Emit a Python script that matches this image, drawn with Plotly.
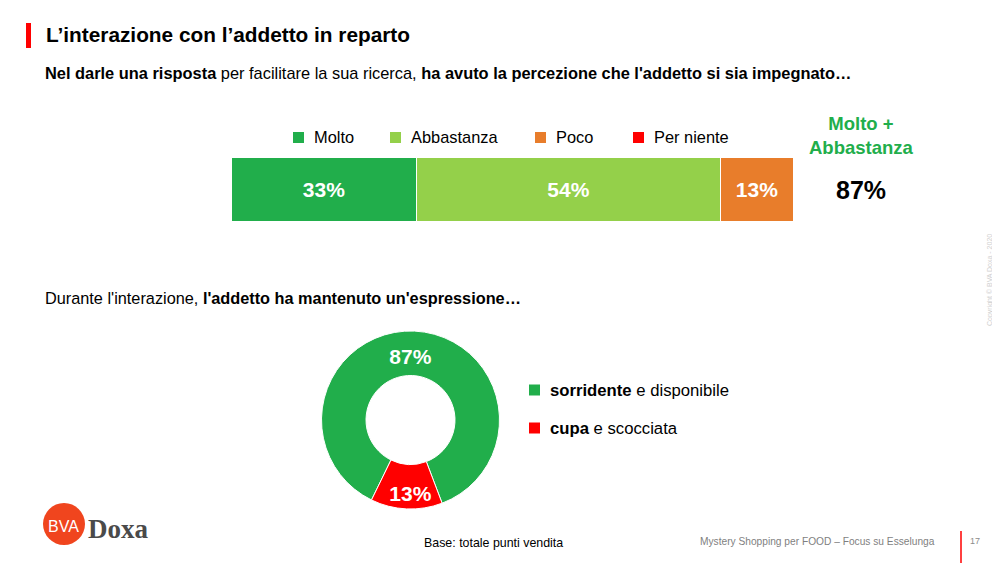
import plotly.graph_objects as go

# data
bar_labels = ["Molto", "Abbastanza", "Poco", "Per niente"]
bar_values = [33, 54, 13, 0]
bar_colors = ["#21AE4B", "#94D04A", "#E87D2B", "#FF0000"]
top2_value = 87

donut_labels = ["<b>sorridente</b> e disponibile", "<b>cupa</b> e scocciata"]
donut_values = [87, 13]
donut_colors = ["#21AE4B", "#FF0000"]

FONT = "Liberation Sans, Arial, sans-serif"
NARROW = "Liberation Sans Narrow, Liberation Sans, Arial, sans-serif"
# page body keeps an 8px margin, so the figure is shrunk and coordinates shifted
OFF = 8
W, H = 1000 - OFF, 563 - OFF


def px(x):
    return (x - OFF) / W


def py(y):
    return 1 - (y - OFF) / H


fig = go.Figure()

# stacked bar
for name, val, col in zip(bar_labels, bar_values, bar_colors):
    fig.add_trace(go.Bar(
        x=[val], y=[0], orientation="h", name=name,
        marker=dict(color=col, line=dict(color="white", width=1)),
        text=[f"{val}%" if val else ""], textposition="inside",
        insidetextanchor="middle",
        textfont=dict(family=NARROW, size=21, color="white"),
        texttemplate="<b>%{text}</b>", showlegend=False, width=1,
    ))

# donut
fig.add_trace(go.Pie(
    values=donut_values, labels=donut_labels, hole=0.5, sort=False,
    direction="clockwise", rotation=206,
    marker=dict(colors=donut_colors, line=dict(color="white", width=1)),
    texttemplate="<b>%{value}%</b>", textposition="inside",
    insidetextorientation="horizontal",
    textfont=dict(family=FONT, size=21, color="white"),
    domain=dict(x=[px(321), px(500)], y=[py(509), py(331)]),
    showlegend=False,
))

fig.update_layout(
    width=W, height=H, margin=dict(l=0, r=0, t=0, b=0),
    paper_bgcolor="white", plot_bgcolor="white",
    barmode="stack", bargap=0,
    xaxis=dict(domain=[px(232), px(794)], range=[0, 100], visible=False,
               fixedrange=True),
    yaxis=dict(domain=[py(222), py(158)], range=[-0.5, 0.5], visible=False,
               fixedrange=True),
    font=dict(family=FONT, color="black"),
)

shapes = []
ann = []

# title block
shapes.append(dict(type="rect", xref="paper", yref="paper",
                   x0=px(26), x1=px(31), y0=py(48), y1=py(23),
                   fillcolor="#FF0000", line=dict(width=0)))
ann.append(dict(text="<b>L’interazione con l’addetto in reparto</b>",
                x=px(44), y=py(35), xanchor="left", yanchor="middle",
                font=dict(size=20.8, color="black")))
ann.append(dict(text="<b>Nel darle una risposta</b> per facilitare la sua ricerca, "
                     "<b>ha avuto la percezione che l'addetto si sia impegnato…</b>",
                x=px(43), y=py(73), xanchor="left", yanchor="middle",
                font=dict(size=16.4, color="black")))

# bar legend
leg_x = [293, 390, 535, 633]
for name, col, lx in zip(bar_labels, bar_colors, leg_x):
    shapes.append(dict(type="rect", xref="paper", yref="paper",
                       x0=px(lx), x1=px(lx + 11), y0=py(143), y1=py(132),
                       fillcolor=col, line=dict(width=0)))
    ann.append(dict(text=name, x=px(lx + 19), y=py(137), xanchor="left",
                    yanchor="middle", font=dict(size=16.4, color="black")))

ann.append(dict(text="<b>Molto +<br>Abbastanza</b>", x=px(861), y=py(136),
                xanchor="center", yanchor="middle", align="center",
                font=dict(size=18.5, color="#21AE4B")))
ann.append(dict(text=f"<b>{top2_value}%</b>", x=px(861), y=py(190),
                xanchor="center", yanchor="middle",
                font=dict(size=25, color="black", family=NARROW)))

# second question
ann.append(dict(text="Durante l'interazione, <b>l'addetto ha mantenuto un'espressione…</b>",
                x=px(43), y=py(298), xanchor="left", yanchor="middle",
                font=dict(size=16.3, color="black")))

# donut legend
for i, (lab, col) in enumerate(zip(donut_labels, donut_colors)):
    yy = 390 + i * 38
    shapes.append(dict(type="rect", xref="paper", yref="paper",
                       x0=px(529), x1=px(540), y0=py(yy + 5.5), y1=py(yy - 5.5),
                       fillcolor=col, line=dict(width=0)))
    ann.append(dict(text=lab, x=px(548), y=py(yy), xanchor="left",
                    yanchor="middle", font=dict(size=16.7, color="black")))

# footer
ann.append(dict(text="Base: totale punti vendita", x=px(422), y=py(543),
                xanchor="left", yanchor="middle",
                font=dict(size=12.4, color="black", family=NARROW)))
ann.append(dict(text="Mystery Shopping per FOOD – Focus su Esselunga", x=px(937),
                y=py(541), xanchor="right", yanchor="middle",
                font=dict(size=10.2, color="#7F7F7F", family=NARROW)))
shapes.append(dict(type="line", xref="paper", yref="paper",
                   x0=px(961), x1=px(961), y0=py(563), y1=py(531),
                   line=dict(color="#FF0000", width=1.5)))
ann.append(dict(text="17", x=px(975), y=py(541), xanchor="center",
                yanchor="middle", font=dict(size=9, color="#8C8C8C")))
ann.append(dict(text="Copyright © BVA Doxa - 2020", x=px(990), y=py(280),
                xanchor="center", yanchor="middle", textangle=-90,
                font=dict(size=7, color="#D0D0D0")))

# logo
shapes.append(dict(type="circle", xref="paper", yref="paper",
                   x0=px(43), x1=px(85), y0=py(545), y1=py(503),
                   fillcolor="#F0451E", line=dict(width=0)))
ann.append(dict(text="BVA", x=px(63), y=py(526), xanchor="center",
                yanchor="middle",
                font=dict(size=16, color="white", family=FONT)))
ann.append(dict(text="<b>Doxa</b>", x=px(86), y=py(529), xanchor="left",
                yanchor="middle",
                font=dict(size=27, color="#4A4A4A",
                          family="Liberation Serif, DejaVu Serif, serif")))

for a in ann:
    a.update(xref="paper", yref="paper", showarrow=False)
fig.update_layout(shapes=shapes, annotations=ann)

fig.write_html("out.html")
